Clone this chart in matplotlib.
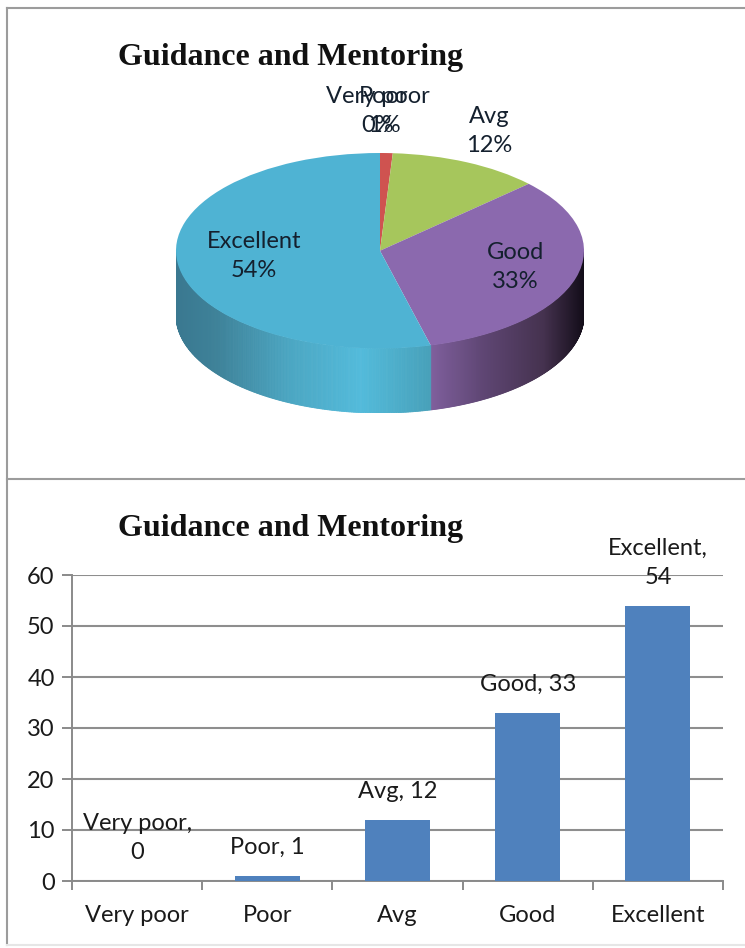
import numpy as np
import matplotlib
matplotlib.use("Agg")
import matplotlib.pyplot as plt
from matplotlib.lines import Line2D
from matplotlib.patches import Polygon
from matplotlib.colors import to_rgb

W, H = 745, 948
categories = ["Very poor", "Poor", "Avg", "Good", "Excellent"]
values = [0, 1, 12, 33, 54]
y_ticks = [0, 10, 20, 30, 40, 50, 60]
title = "Guidance and Mentoring"
pie_colors = ["#4F81BD", "#CF5350", "#A6C65C", "#8B69AE", "#4FB3D3"]
bar_color = "#4F81BD"
sans = "Lato"
serif = "Liberation Serif"

fig = plt.figure(figsize=(W / 100, H / 100), dpi=100, facecolor="white")


def px_axes(x0, x1, ytop, ybot):
    return fig.add_axes([x0 / W, 1 - ybot / H, (x1 - x0) / W, (ybot - ytop) / H])


# ---------- panel frame
frame = "#9c9c9c"
for (xa, ya, xb, yb, c) in [(7.5, 8, 745, 8, frame), (7.5, 8, 7.5, 945, frame),
                            (7.5, 479, 745, 479, frame), (7.5, 945, 745, 945, "#e6e6e6")]:
    fig.add_artist(Line2D([xa / W, xb / W], [1 - ya / H, 1 - yb / H], color=c, lw=1.5))

fig.text(118 / W, 1 - 65 / H, title, family=serif, weight="bold", fontsize=23, color="#111111")
fig.text(118 / W, 1 - 536 / H, title, family=serif, weight="bold", fontsize=23, color="#111111")

# ---------- 3-D looking pie
depth = 0.66
ax = px_axes(176, 584, 153, 349 + 64)
ax.pie(values, colors=pie_colors, startangle=90, counterclock=False, radius=1,
       wedgeprops=dict(linewidth=0))
ax.set_aspect("auto")
ax.set_xlim(-1, 1)
ax.set_ylim(-1 - depth, 1)
for p in ax.patches:
    p.set_zorder(3)

wall_stops = {
    "Excellent": ([-1.0, -0.8, -0.45, -0.1, 0.1, 0.26],
                  ["#3A7890", "#3E8299", "#4BA6C2", "#53BBDB", "#4CACC8", "#479FB8"]),
    "Good": ([0.24, 0.5, 0.8, 1.0],
             ["#80609E", "#5F4674", "#45324F", "#120C18"]),
}
cum = np.cumsum([0] + values) / sum(values)
for i, cat in enumerate(categories):
    if cat not in wall_stops:
        continue
    xs, cs = wall_stops[cat]
    rgb = np.array([to_rgb(c) for c in cs])
    a0 = np.pi / 2 - 2 * np.pi * cum[i]
    a1 = np.pi / 2 - 2 * np.pi * cum[i + 1]
    th = np.linspace(a0, a1, 400)
    th = th[np.sin(th) <= 0.0]
    for t0, t1 in zip(th[:-1], th[1:]):
        x0, x1 = np.cos(t0), np.cos(t1)
        y0, y1 = np.sin(t0), np.sin(t1)
        col = [np.interp((x0 + x1) / 2, xs, rgb[:, k]) for k in range(3)]
        ax.add_patch(Polygon([(x0, y0), (x1, y1), (x1, y1 - depth), (x0, y0 - depth)],
                             facecolor=col, edgecolor=col, lw=0.6, zorder=2))

labels = [f"{c}\n{v}%" for c, v in zip(categories, values)]
label_px = [(378, 111), (384, 111), (489, 131), (515, 267), (254, 256)]
for lab, (lx, ly) in zip(labels, label_px):
    fig.text(lx / W, 1 - ly / H, lab, family=sans, fontsize=17, ha="center", va="center",
             color="#14202e", linespacing=1.45)

# ---------- bar chart
bx = px_axes(72, 723, 575, 881)
pos = np.arange(len(categories))
bx.bar(pos, values, width=0.5, color=bar_color, zorder=3)
bx.set_xlim(-0.5, len(categories) - 0.5)
bx.set_ylim(0, 60)
bx.set_yticks(y_ticks)
bx.set_xticks(np.arange(len(categories) + 1) - 0.5)
bx.set_xticklabels([])
bx.set_xticks(pos, minor=True)
bx.set_xticklabels(categories, minor=True, family=sans, fontsize=17, color="#1a1a1a")
bx.tick_params(axis="x", which="minor", length=0, pad=17)
bx.tick_params(axis="x", which="major", length=6.5, width=1.4, color="#8a8a8a")
bx.tick_params(axis="y", length=7, width=1.4, color="#8a8a8a", labelsize=17,
               labelcolor="#1a1a1a", pad=5.5)
for t in bx.get_yticklabels():
    t.set_family(sans)
bx.grid(axis="y", color="#8e8e8e", lw=1.5, zorder=0)
bx.set_axisbelow(True)
for s in ["top", "right"]:
    bx.spines[s].set_visible(False)
for s in ["left", "bottom"]:
    bx.spines[s].set_color("#8a8a8a")
    bx.spines[s].set_linewidth(1.4)

for p, v, c in zip(pos, values, categories):
    sep = ",\n" if len(c) > 4 and c != "Good" else ", "
    bx.annotate(f"{c}{sep}{v}", (p, v), xytext=(0, 13), textcoords="offset points",
                ha="center", va="bottom", family=sans, fontsize=17, color="#1a1a1a",
                annotation_clip=False, zorder=5, linespacing=1.45)

fig.savefig("out.png", dpi=100)
